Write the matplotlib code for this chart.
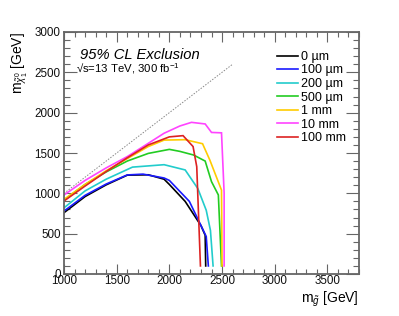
import matplotlib
matplotlib.use("Agg")
import matplotlib.pyplot as plt
from matplotlib.ticker import MultipleLocator

plt.rcParams['font.family'] = ['Liberation Sans', 'DejaVu Sans']
plt.rcParams['mathtext.fontset'] = 'custom'
plt.rcParams['mathtext.rm'] = 'Liberation Sans'
plt.rcParams['mathtext.it'] = 'Liberation Sans:italic'
plt.rcParams['mathtext.bf'] = 'Liberation Sans:bold'

# ---- data (gluino mass, neutralino mass) in GeV ----
labels = ["0 \u00b5m", "100 \u00b5m", "200 \u00b5m", "500 \u00b5m", "1 mm", "10 mm", "100 mm"]
colors = ["#000000", "#1a1aff", "#22cccc", "#22cc22", "#ffcc00", "#ff44ff", "#dd2222"]

x_0um = [1000, 1200, 1400, 1600, 1800, 1950, 2000, 2150, 2300, 2340, 2345]
y_0um = [760, 960, 1105, 1225, 1230, 1175, 1110, 900, 600, 480, 100]

x_100um = [1000, 1200, 1400, 1600, 1750, 1950, 2000, 2190, 2350, 2370]
y_100um = [780, 975, 1115, 1228, 1238, 1190, 1160, 900, 465, 100]

x_200um = [1000, 1200, 1400, 1650, 1950, 2150, 2270, 2350, 2390, 2415]
y_200um = [820, 1030, 1175, 1325, 1355, 1290, 1060, 790, 540, 100]

x_500um = [1000, 1200, 1400, 1600, 1800, 2000, 2100, 2230, 2340, 2400, 2465, 2495]
y_500um = [915, 1110, 1265, 1400, 1495, 1545, 1520, 1475, 1400, 1145, 980, 100]

x_1mm = [1000, 1200, 1400, 1600, 1800, 1950, 2150, 2315, 2385, 2495, 2500]
y_1mm = [925, 1110, 1280, 1430, 1580, 1660, 1665, 1615, 1410, 1040, 100]

x_10mm = [1000, 1200, 1400, 1600, 1800, 1950, 2100, 2210, 2340, 2400, 2495, 2520, 2520]
y_10mm = [980, 1160, 1315, 1455, 1620, 1745, 1835, 1880, 1860, 1755, 1750, 1000, 100]

x_100mm = [1000, 1200, 1400, 1600, 1800, 2000, 2130, 2225, 2260, 2295]
y_100mm = [905, 1090, 1270, 1440, 1600, 1700, 1715, 1580, 1330, 100]

diag_x = [1000, 2600]
diag_y = [1000, 2600]

series = [(x_0um, y_0um), (x_100um, y_100um), (x_200um, y_200um), (x_500um, y_500um),
          (x_1mm, y_1mm), (x_10mm, y_10mm), (x_100mm, y_100mm)]

W, H = 399, 316
fig = plt.figure(figsize=(W / 100, H / 100), dpi=100)
ax = fig.add_axes([64 / W, 1 - 274 / H, (359 - 64) / W, (274 - 32) / H])

ax.plot(diag_x, diag_y, color="#888888", lw=0.7, ls=(0, (1.5, 1.5)))
for (xs, ys), c, lab in zip(series, colors, labels):
    ax.plot(xs, ys, color=c, lw=1.2, label=lab, solid_joinstyle='miter')

ax.set_xlim(1000, 3800)
ax.set_ylim(0, 3000)
ax.xaxis.set_major_locator(MultipleLocator(500))
ax.xaxis.set_minor_locator(MultipleLocator(100))
ax.yaxis.set_major_locator(MultipleLocator(500))
ax.yaxis.set_minor_locator(MultipleLocator(100))

fc = "#666666"
for s in ax.spines.values():
    s.set_color(fc)
    s.set_linewidth(1.3)
ax.tick_params(axis='both', which='both', direction='in', top=True, right=True,
               colors=fc, labelcolor='#111111', labelsize=8.4)
ax.tick_params(axis='y', which='major', length=9.4, width=0.8, pad=2.5)
ax.tick_params(axis='y', which='minor', length=4.3, width=0.8)
ax.tick_params(axis='x', which='major', length=7.2, width=0.8, pad=1.0)
ax.tick_params(axis='x', which='minor', length=3.6, width=0.8)

ax.set_xlabel(r"m$_{\tilde{g}}$ [GeV]", fontsize=10, loc='right', labelpad=2)
ax.set_ylabel(r"m$_{\tilde{\chi}^{0}_{1}}$ [GeV]", fontsize=10, loc='top', labelpad=3)

ax.text(80 / W, 1 - 59 / H, "95% CL Exclusion", transform=fig.transFigure,
        fontsize=10.6, style='italic', ha='left', va='baseline')
ax.text(76 / W, 1 - 72 / H, "\u221as=13 TeV, 300 fb$^{-1}$", transform=fig.transFigure,
        fontsize=8.2, ha='left', va='baseline')

leg = ax.legend(loc='upper left', bbox_to_anchor=(277 / W, 1 - 51 / H),
                bbox_transform=fig.transFigure, frameon=False, fontsize=9,
                handlelength=1.65, handletextpad=0.28, labelspacing=0.12,
                borderpad=0, borderaxespad=0)

fig.savefig("out.png", dpi=100)
